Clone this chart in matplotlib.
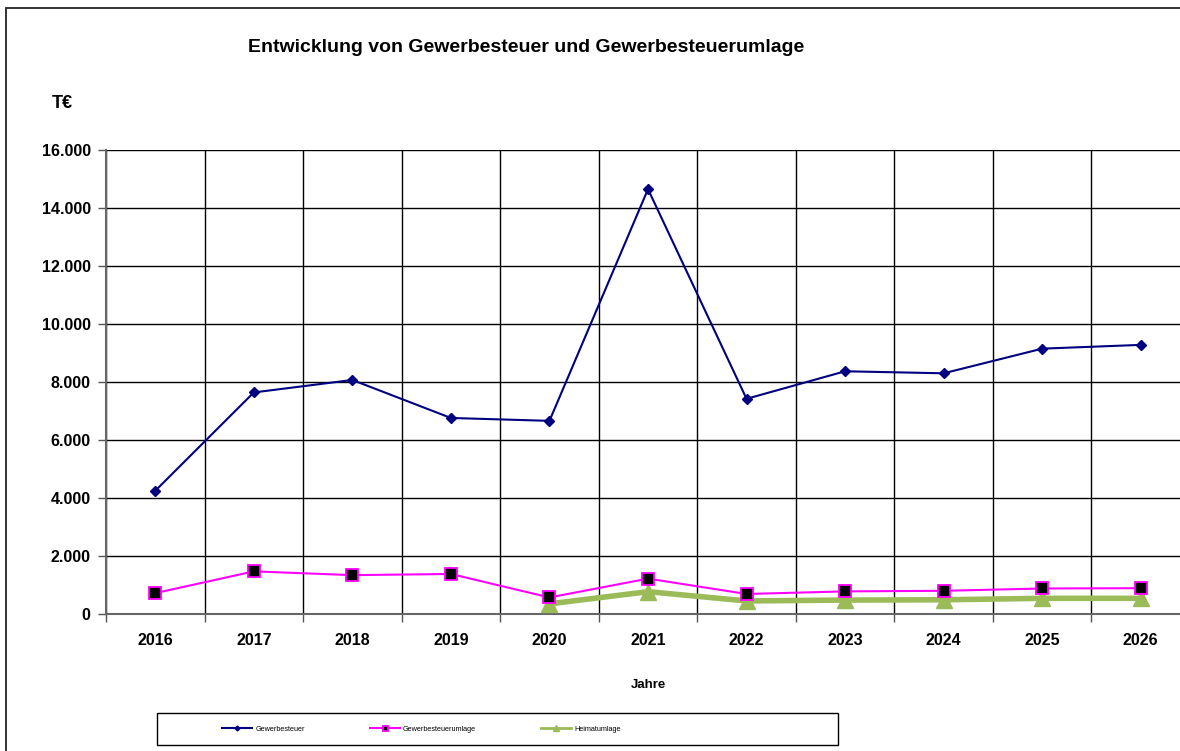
import numpy as np
import matplotlib
matplotlib.use("Agg")
import matplotlib.pyplot as plt
from matplotlib.patches import Rectangle
from matplotlib.ticker import FuncFormatter

plt.rcParams["font.family"] = ["Liberation Sans", "DejaVu Sans"]

jahre = [2016, 2017, 2018, 2019, 2020, 2021, 2022, 2023, 2024, 2025, 2026]
gewerbesteuer = [4250, 7640, 8070, 6760, 6660, 14650, 7420, 8370, 8300, 9150, 9280]
umlage = [720, 1470, 1340, 1380, 570, 1220, 690, 780, 800, 880, 890]
heimat_jahre = [2020, 2021, 2022, 2023, 2024, 2025, 2026]
heimatumlage = [350, 770, 450, 480, 490, 540, 540]

W, H = 1180, 751
fig = plt.figure(figsize=(W / 100, H / 100), dpi=100)

# outer chart border (cut off at right/bottom like the screenshot)
fig.patches.append(Rectangle((6 / W, -0.1), 1.2, 1 - 8 / H + 0.1, transform=fig.transFigure,
                             fill=False, edgecolor="#222222", lw=1.3, clip_on=False))
# legend box
fig.patches.append(Rectangle((157 / W, 1 - 745 / H), 681 / W, 32 / H, transform=fig.transFigure,
                             fill=False, edgecolor="black", lw=1))

ax = fig.add_axes([106 / W, 1 - 614 / H, 1084 / W, 464 / H])

x = np.arange(len(jahre))
hx = [jahre.index(j) for j in heimat_jahre]

ax.plot(x, gewerbesteuer, color="#000080", lw=1.5, marker="D", ms=5.5,
        mfc="#000080", mec="#000080", label="Gewerbesteuer", zorder=4)
ax.plot(x, umlage, color="#FF00FF", lw=1.5, marker="s", ms=8,
        mfc="black", mec="#FF00FF", mew=1.3, label="Gewerbesteuerumlage", zorder=5)
ax.plot(hx, heimatumlage, color="#9BBB59", lw=4, marker="^", ms=11,
        mfc="#9BBB59", mec="#9BBB59", label="Heimatumlage", zorder=3)

ax.set_xlim(-0.5, len(jahre) - 0.5)
ax.set_ylim(0, 16000)
ax.set_yticks(np.arange(0, 16001, 2000))
ax.yaxis.set_major_formatter(FuncFormatter(lambda v, _: f"{v:,.0f}".replace(",", ".")))
ax.set_xticks(x)
ax.set_xticklabels([str(j) for j in jahre])
ax.set_xticks(np.arange(-0.5, len(jahre), 1), minor=True)
ax.tick_params(axis="x", which="major", length=0, pad=14, labelsize=11.5)
ax.tick_params(axis="x", which="minor", length=6, color="#555555", width=1)
ax.tick_params(axis="y", length=6, color="#555555", width=1, labelsize=11.5, pad=5)
for lab in ax.get_xticklabels() + ax.get_yticklabels():
    lab.set_fontweight("bold")

ax.grid(axis="y", which="major", color="black", lw=1)
ax.grid(axis="x", which="minor", color="black", lw=1)
ax.set_axisbelow(True)
for side in ["top", "right"]:
    ax.spines[side].set_visible(False)
for side in ["left", "bottom"]:
    ax.spines[side].set_color("#666666")
    ax.spines[side].set_linewidth(1.5)

ax.set_xlabel("Jahre", fontsize=9.5, fontweight="bold", labelpad=22)

fig.text(526 / W, 1 - 47 / H, "Entwicklung von Gewerbesteuer und Gewerbesteuerumlage",
         ha="center", va="center", fontsize=14, fontweight="bold")
fig.text(62 / W, 1 - 103 / H, "T€", ha="center", va="center", fontsize=13, fontweight="bold")

h, l = ax.get_legend_handles_labels()
leg = fig.legend(h, l, loc="center left", ncol=3,
                 bbox_to_anchor=(222 / W, 1 - 729 / H),
                 fontsize=5.2, frameon=False, handlelength=4.2, handletextpad=0.4,
                 columnspacing=9, markerscale=0.45, borderpad=0, borderaxespad=0)
leg.get_lines()[2].set_linewidth(2)

fig.savefig("out.png", dpi=100)
